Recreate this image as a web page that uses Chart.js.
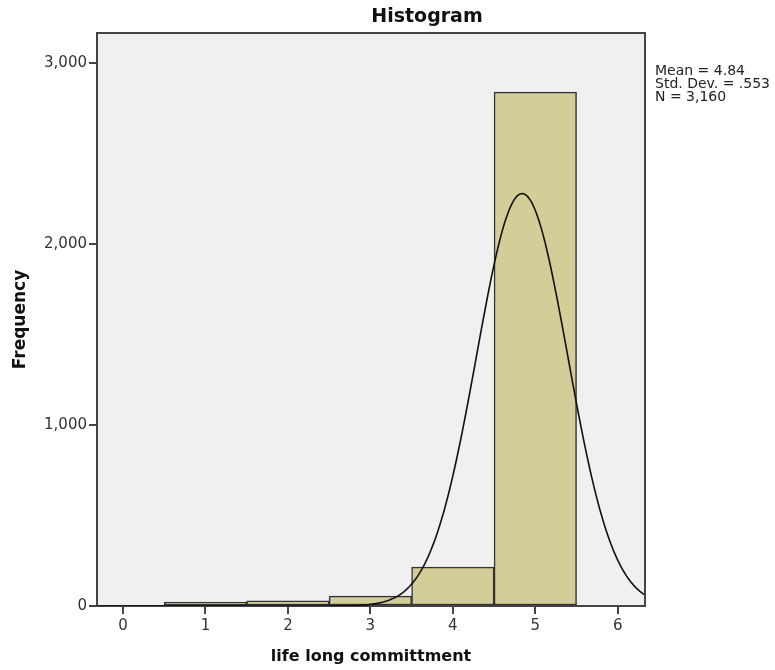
<!DOCTYPE html>
<html>
<head>
<meta charset="utf-8">
<script src="https://cdn.jsdelivr.net/npm/chart.js@4.4.0/dist/chart.umd.min.js"></script>
<style>
  html, body { margin: 0; padding: 0; background: #ffffff; }
  #wrap { width: 775px; height: 670px; }
</style>
</head>
<body>
<div id="wrap"><canvas id="histChart" width="775" height="670"></canvas></div>
<script>
// histogram bins (centre of each bin) and counts
const binCenters = [1, 2, 3, 4, 5];
const frequencies = [22, 28, 55, 215, 2840];
const binWidth = 1;

// tick labels
const xTickValues = [0, 1, 2, 3, 4, 5, 6];
const yTickValues = [0, 1000, 2000, 3000];

// summary statistics printed next to the plot
const meanValue = 4.84;
const stdDev = 0.553;
const sampleSize = 3160;
const statLines = ['Mean = 4.84', 'Std. Dev. = .553', 'N = 3,160'];

const xMin = -0.315, xMax = 6.33;
const yMax = 3167;

// normal curve scaled to the histogram (N * bin width * density)
const curvePoints = [];
for (let x = xMin; x <= xMax + 1e-9; x += 0.02) {
  const z = (x - meanValue) / stdDev;
  const dens = Math.exp(-0.5 * z * z) / (stdDev * Math.sqrt(2 * Math.PI));
  curvePoints.push({ x: x, y: sampleSize * binWidth * dens });
}

const FONT = 'DejaVu Sans';
const axisColor = '#444444';

const plotFrame = {
  id: 'plotFrame',
  beforeDraw(chart) {
    const { ctx, chartArea: a } = chart;
    ctx.save();
    ctx.fillStyle = '#f0f0f0';
    ctx.fillRect(a.left, a.top, a.right - a.left, a.bottom - a.top);
    ctx.restore();
  },
  afterDraw(chart) {
    const { ctx, chartArea: a } = chart;
    ctx.save();
    ctx.strokeStyle = axisColor;
    ctx.lineWidth = 2;
    ctx.beginPath();
    ctx.moveTo(a.left, a.top);
    ctx.lineTo(a.right, a.top);
    ctx.lineTo(a.right, a.bottom);
    ctx.stroke();

    // title
    ctx.fillStyle = '#111111';
    ctx.font = 'bold 19px "' + FONT + '"';
    ctx.textAlign = 'center';
    ctx.textBaseline = 'middle';
    ctx.fillText('Histogram', 427, 17);

    // stats box text
    ctx.font = '14px "' + FONT + '"';
    ctx.textAlign = 'left';
    ctx.fillStyle = '#222222';
    statLines.forEach((t, i) => ctx.fillText(t, 655, 71 + i * 13));
    ctx.restore();
  }
};

new Chart(document.getElementById('histChart'), {
  type: 'bar',
  data: {
    datasets: [
      {
        type: 'line',
        data: curvePoints,
        borderColor: '#111111',
        borderWidth: 1.6,
        pointRadius: 0,
        tension: 0,
        fill: false,
        order: 0
      },
      {
        type: 'bar',
        data: binCenters.map((c, i) => ({ x: c, y: frequencies[i] })),
        backgroundColor: '#d3ce98',
        borderColor: '#333333',
        borderWidth: 1.5,
        borderSkipped: false,
        barPercentage: 1,
        categoryPercentage: 1,
        order: 1
      }
    ]
  },
  options: {
    responsive: false,
    animation: false,
    layout: { padding: { top: 33, right: 130, bottom: 0, left: 0 } },
    plugins: {
      legend: { display: false },
      tooltip: { enabled: false },
      title: { display: false }
    },
    scales: {
      x: {
        type: 'linear',
        min: xMin,
        max: xMax,
        offset: false,
        afterBuildTicks: s => { s.ticks = xTickValues.map(v => ({ value: v })); },
        afterFit: s => { s.height = 64; },
        grid: { display: true, drawOnChartArea: false, drawTicks: true, tickLength: 8, color: axisColor, lineWidth: 2, offset: false },
        border: { display: true, color: axisColor, width: 2 },
        ticks: { color: '#333333', font: { family: FONT, size: 15 }, padding: 3, maxRotation: 0, autoSkip: false },
        title: {
          display: true,
          text: 'life long committment',
          color: '#111111',
          font: { family: FONT, size: 16, weight: 'bold' },
          padding: { top: 0, bottom: 4 }
        }
      },
      y: {
        min: 0,
        max: yMax,
        afterBuildTicks: s => { s.ticks = yTickValues.map(v => ({ value: v })); },
        afterFit: s => { s.width = 97; },
        grid: { display: true, drawOnChartArea: false, drawTicks: true, tickLength: 8, color: axisColor, lineWidth: 2 },
        border: { display: true, color: axisColor, width: 2 },
        ticks: {
          color: '#333333',
          font: { family: FONT, size: 15 },
          padding: 2,
          callback: v => v.toLocaleString('en-US')
        },
        title: {
          display: true,
          text: 'Frequency',
          color: '#111111',
          font: { family: FONT, size: 17, weight: 'bold' },
          padding: { top: 10, bottom: 0 }
        }
      }
    }
  },
  plugins: [plotFrame]
});
</script>
</body>
</html>
